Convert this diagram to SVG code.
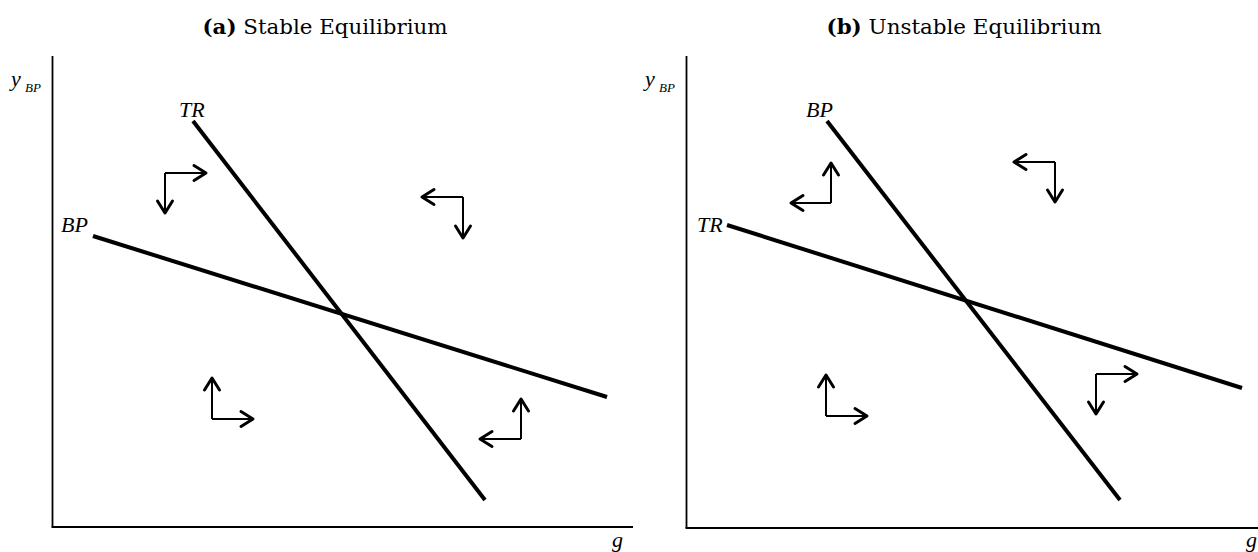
<svg xmlns="http://www.w3.org/2000/svg" width="1258" height="552" viewBox="0 0 1258 552">
<style>
.title{font-family:"DejaVu Serif","Liberation Serif",serif;font-size:20px;fill:#000}
.lab{font-family:"Liberation Serif",serif;font-style:italic;font-size:22px;fill:#000}
.sub{font-family:"Liberation Serif",serif;font-style:italic;font-size:13px;fill:#000}
.axis{stroke:#000;stroke-width:1.8;fill:none}
.curve{stroke:#000;stroke-width:4;fill:none;stroke-linecap:butt}
.arr{stroke:#000;stroke-width:2;fill:none;marker-end:url(#head)}
</style>
<defs>
<marker id="head" markerUnits="userSpaceOnUse" markerWidth="30" markerHeight="30" viewBox="-15 -15 30 30" refX="0" refY="0" orient="auto">
<path d="M-12,-7.5 L0,0 L-12,7.5" fill="none" stroke="#000" stroke-width="3" stroke-linejoin="round" stroke-linecap="round"/>
</marker>
</defs>
<rect width="1258" height="552" fill="#fff"/>
<g id="panel-a">
<text class="title" x="325" y="34" text-anchor="middle" textLength="245" lengthAdjust="spacingAndGlyphs"><tspan font-weight="bold">(a)</tspan> Stable Equilibrium</text>
<g id="axes-a">
<line class="axis" x1="52.5" y1="56" x2="52.5" y2="527"/>
<line class="axis" x1="51.5" y1="527" x2="633" y2="527"/>
<text class="lab" x="11" y="86">y</text><text class="sub" x="25" y="92">BP</text>
<text class="lab" x="612" y="547">g</text>
</g>
<g id="TR-a">
<line class="curve" x1="193" y1="121" x2="485" y2="500"/>
<text class="lab" x="179" y="117">TR</text>
</g>
<g id="BP-a">
<line class="curve" x1="93" y1="236" x2="607" y2="397"/>
<text class="lab" x="61" y="232">BP</text>
</g>
</g>
<g id="panel-b">
<text class="title" x="964" y="34" text-anchor="middle" textLength="275" lengthAdjust="spacingAndGlyphs"><tspan font-weight="bold">(b)</tspan> Unstable Equilibrium</text>
<g id="axes-b">
<line class="axis" x1="686.5" y1="56" x2="686.5" y2="528"/>
<line class="axis" x1="685.5" y1="528" x2="1258" y2="528"/>
<text class="lab" x="645" y="86">y</text><text class="sub" x="659" y="92">BP</text>
<text class="lab" x="1246" y="547">g</text>
</g>
<g id="BP-b">
<line class="curve" x1="827" y1="121" x2="1120" y2="500"/>
<text class="lab" x="806" y="117">BP</text>
</g>
<g id="TR-b">
<line class="curve" x1="727" y1="225" x2="1242" y2="388"/>
<text class="lab" x="697" y="232">TR</text>
</g>
</g>
<g id="connectors">
<path class="arr" d="M165,173 H206"/>
<path class="arr" d="M165,173 V213"/>
<path class="arr" d="M463,197 H422"/>
<path class="arr" d="M463,197 V238"/>
<path class="arr" d="M212,419 V378"/>
<path class="arr" d="M212,419 H253"/>
<path class="arr" d="M521,439 V399"/>
<path class="arr" d="M521,439 H480"/>
<path class="arr" d="M831,203 V163"/>
<path class="arr" d="M831,203 H791"/>
<path class="arr" d="M1055,162 H1014"/>
<path class="arr" d="M1055,162 V202"/>
<path class="arr" d="M826,416 V375"/>
<path class="arr" d="M826,416 H867"/>
<path class="arr" d="M1096,374 H1137"/>
<path class="arr" d="M1096,374 V414"/>
</g>
</svg>
